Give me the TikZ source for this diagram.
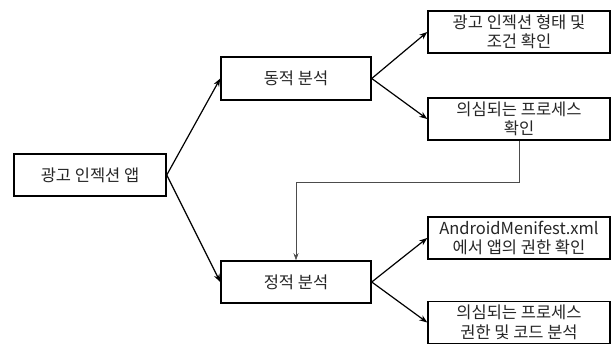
\documentclass[tikz,border=0pt]{standalone}
\usepackage{fontspec}
\setmainfont{Noto Sans CJK KR}
\usetikzlibrary{arrows.meta}
\begin{document}
\begin{tikzpicture}[x=1pt,y=-1pt,
  box/.style={draw=black,line width=1.5pt,fill=white,minimum width=182pt,minimum height=42pt,inner sep=0pt,align=center,text=black!85,font=\fontsize{16.5}{19.5}\selectfont},
  midbox/.style={box,minimum width=150pt,minimum height=43pt},
  rootbox/.style={box,minimum width=152pt},
  arr/.style={line width=1.2pt,-{Stealth[length=8pt,width=6pt]}},
  thin/.style={draw=black!70,line width=0.6pt,-{Stealth[length=7pt,width=5pt]}}]
\useasboundingbox (0,0) rectangle (613,345);
\node[rootbox] (root) at (90,175) {광고 인젝션 앱};
\node[midbox] (dyn) at (296,78.5) {동적 분석};
\node[midbox,minimum height=42pt] (sta) at (296,282) {정적 분석};
\node[box] (b1) at (519,32) {광고 인젝션 형태 및\\조건 확인};
\node[box] (b2) at (519,119) {의심되는 프로세스\\확인};
\node[box] (b3) at (519,238) {AndroidMenifest.xml\\에서 앱의 권한 확인};
\node[box] (b4) at (519,322.5) {의심되는 프로세스\\권한 및 코드 분석};
\coordinate (c1) at (519,182);
\coordinate (c2) at (296,182);
\draw[arr] (root.east) -- (dyn.west);
\draw[arr] (root.east) -- (sta.west);
\draw[arr] (dyn.east) -- (b1.west);
\draw[arr] (dyn.east) -- (b2.west);
\draw[arr] (sta.east) -- (b3.west);
\draw[arr] (sta.east) -- (b4.west);
\draw[thin] (b2.south) -- (c1) -- (c2) -- (sta.north);
\end{tikzpicture}
\end{document}
